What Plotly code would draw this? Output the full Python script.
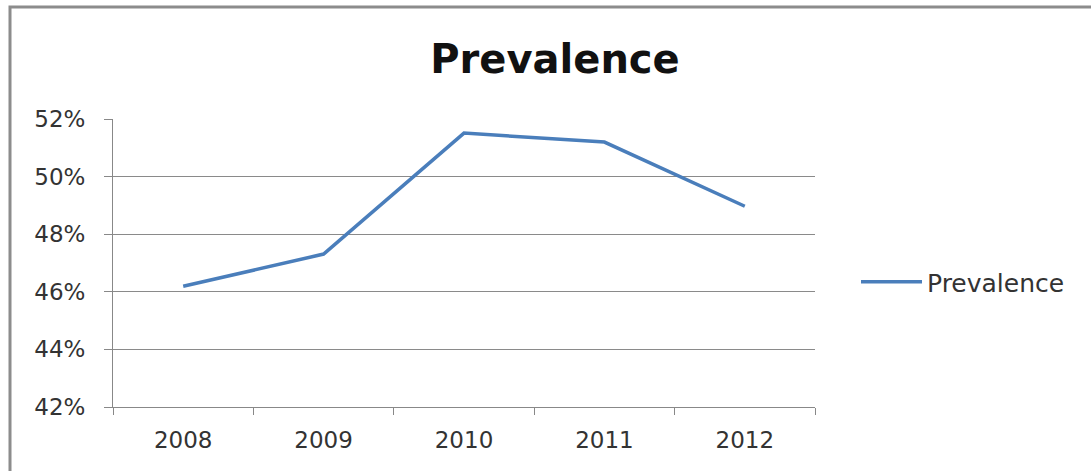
import plotly.graph_objects as go

years = ["2008", "2009", "2010", "2011", "2012"]
prevalence = [0.4619, 0.4731, 0.5151, 0.5120, 0.4897]
y_ticks = [0.42, 0.44, 0.46, 0.48, 0.50, 0.52]
y_tick_labels = ["42%", "44%", "46%", "48%", "50%", "52%"]

W, H = 1091, 471
ML, MR, MT, MB = 113, 276, 119, 64
pw, ph = W - ML - MR, H - MT - MB

fig = go.Figure()
fig.add_trace(go.Scatter(
    x=years, y=prevalence, mode="lines", name="Prevalence",
    line=dict(color="#4A7EBB", width=3.5),
))

fig.update_layout(
    width=W, height=H,
    margin=dict(l=ML, r=MR, t=MT, b=MB, pad=0),
    paper_bgcolor="white", plot_bgcolor="white",
    font=dict(family="DejaVu Sans", color="#333333"),
    title=dict(text="<b>Prevalence</b>", font=dict(size=40, color="#111111", family="DejaVu Sans"),
               x=(555 - ML) / pw, xref="paper", xanchor="center",
               y=1 - 59 / H, yref="container", yanchor="middle"),
    showlegend=True,
    legend=dict(x=(856 - ML) / pw, xanchor="left", y=(H - MB - 282) / ph, yanchor="middle",
                itemwidth=61,
                font=dict(size=25, color="#333333"), bgcolor="rgba(0,0,0,0)"),
    xaxis=dict(type="category", range=[-0.5, 4.5], tickson="boundaries",
               ticks="outside", ticklen=7, tickcolor="#888888", tickwidth=1,
               showline=True, linecolor="#888888", linewidth=1,
               showgrid=False, tickfont=dict(size=23, color="#333333"),
               ticklabelstandoff=12),
    yaxis=dict(range=[0.42, 0.52], tickvals=y_ticks, ticktext=y_tick_labels,
               ticks="outside", ticklen=8, tickcolor="#888888", tickwidth=1,
               showline=True, linecolor="#888888", linewidth=1,
               showgrid=True, gridcolor="#8a8a8a", gridwidth=1,
               zeroline=False, tickfont=dict(size=23, color="#333333"),
               ticklabelstandoff=14),
)

# chart-area border (top and left visible)
fig.add_shape(type="rect", xref="paper", yref="paper",
              x0=(10 - ML) / pw, x1=(W + 20 - ML) / pw,
              y0=(H - MB - (H + 20)) / ph, y1=(H - MB - 7) / ph,
              line=dict(color="#8c8c8c", width=3), fillcolor="rgba(0,0,0,0)", layer="below")

fig.write_html("out.html")
